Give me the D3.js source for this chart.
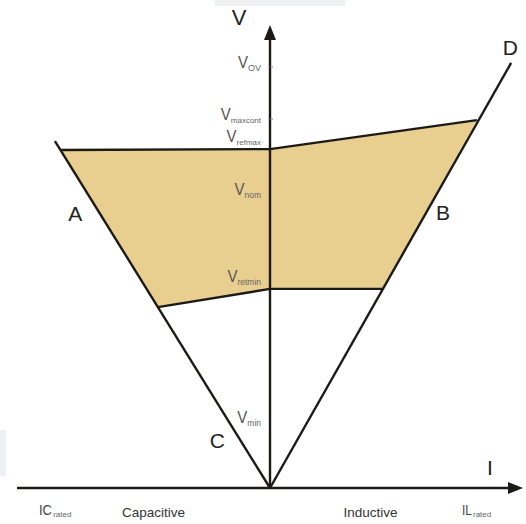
<!DOCTYPE html>
<html><head><meta charset="utf-8">
<script src="https://cdn.jsdelivr.net/npm/d3@7"></script>
<style>html,body{margin:0;padding:0;background:#fff;}svg{display:block;font-family:"Liberation Sans",Arial,sans-serif;}</style>
</head><body>
<script>
// Operating region (per-unit current I, per-unit voltage V)
const regionI = [-0.826, 0, 0.818, 0.447, 0, -0.443];
const regionV = [1.095, 1.098, 1.192, 0.645, 0.645, 0.586];
// Characteristic lines from origin
const lineNames = ["A", "D"];
const lineEndI = [-0.85, 0.953];
const lineEndV = [1.124, 1.377];
// Voltage levels on the V axis
const levelNames = ["OV", "maxcont", "refmax", "nom", "retmin", "min"];
const levelLabelV = [1.361, 1.192, 1.121, 0.949, 0.667, 0.211];
const levelSubSize = [9, 8, 8, 8.5, 8.5, 8.5];
const tickLevels = [1.364, 1.195];
// Letter labels (I, V positions)
const letterNames = ["A", "B", "C", "D"];
const letterI = [-0.77, 0.684, -0.208, 0.95];
const letterV = [0.865, 0.868, 0.13, 1.403];
// Current axis labels
const iLabels = ["Capacitive", "Inductive"];
const iLabelI = [-0.46, 0.397];

const W = 526, H = 524;
const x = d3.scaleLinear().domain([-1, 1]).range([17, 523]);
const y = d3.scaleLinear().domain([0, 1.5]).range([488, 25]);

const svg = d3.select("body").append("svg").attr("width", W).attr("height", H);

// faint scan artifacts
svg.append("rect").attr("x", 215).attr("y", 0).attr("width", 130).attr("height", 6).attr("fill", "#eef0f2");
svg.append("rect").attr("x", 0).attr("y", 430).attr("width", 6).attr("height", 46).attr("fill", "#eef0f2");

const pts = regionI.map((d, i) => [x(d), y(regionV[i])]);
svg.append("path").attr("d", d3.line()(pts) + "Z").attr("fill", "#e9cf8f");

const stroke = "#1c1a17", sw = 2.4;
const ln = d3.line();
// top and bottom edges
svg.append("path").attr("d", ln(pts.slice(0, 3))).attr("fill", "none").attr("stroke", stroke).attr("stroke-width", sw);
svg.append("path").attr("d", ln([pts[5], pts[4], pts[3]])).attr("fill", "none").attr("stroke", stroke).attr("stroke-width", sw);
// characteristic lines
lineEndI.forEach((d, i) => {
  svg.append("line").attr("x1", x(0)).attr("y1", y(0)).attr("x2", x(d)).attr("y2", y(lineEndV[i]))
    .attr("stroke", stroke).attr("stroke-width", sw);
});
// axes
svg.append("line").attr("x1", x(0)).attr("y1", y(0)).attr("x2", x(0)).attr("y2", y(1.47))
  .attr("stroke", stroke).attr("stroke-width", sw);
svg.append("path").attr("d", `M${x(0)},${y(1.5)} L${x(0) - 6},${y(1.5) + 15} L${x(0) + 6},${y(1.5) + 15} Z`).attr("fill", stroke);
svg.append("line").attr("x1", x(-1)).attr("y1", y(0)).attr("x2", x(0.98)).attr("y2", y(0))
  .attr("stroke", stroke).attr("stroke-width", sw);
svg.append("path").attr("d", `M${x(1)},${y(0)} L${x(1) - 15},${y(0) - 6} L${x(1) - 15},${y(0) + 6} Z`).attr("fill", stroke);

// small ticks
tickLevels.forEach(v => {
  svg.append("line").attr("x1", x(0)).attr("x2", x(0) + 3).attr("y1", y(v)).attr("y2", y(v))
    .attr("stroke", "#888").attr("stroke-width", 1);
});

// level labels
levelNames.forEach((n, i) => {
  const yy = y(levelLabelV[i]);
  const sub = svg.append("text").attr("x", 261).attr("y", yy + 3).attr("text-anchor", "end")
    .attr("font-size", levelSubSize[i]).attr("fill", "#666").text(n);
  const w = sub.node().getComputedTextLength();
  svg.append("text").attr("x", 261 - w).attr("y", yy).attr("text-anchor", "end")
    .attr("font-size", 17).attr("textLength", 10).attr("lengthAdjust", "spacingAndGlyphs")
    .attr("fill", "#555").text("V");
});

// letters
letterNames.forEach((n, i) => {
  svg.append("text").attr("x", x(letterI[i])).attr("y", y(letterV[i])).attr("text-anchor", "middle")
    .attr("font-size", 21).attr("fill", "#222").text(n);
});
// axis titles
svg.append("text").attr("x", 239).attr("y", 25).attr("text-anchor", "middle").attr("font-size", 22).attr("fill", "#222").text("V");
svg.append("text").attr("x", 490).attr("y", 475).attr("text-anchor", "middle").attr("font-size", 21).attr("fill", "#222").text("I");

// current labels
iLabels.forEach((t, i) => {
  svg.append("text").attr("x", x(iLabelI[i])).attr("y", 517).attr("text-anchor", "middle")
    .attr("font-size", 13.5).attr("fill", "#333").text(t);
});
[["IC", 39, 13], ["IL", 462, 10]].forEach(([t, xx, tl]) => {
  const m = svg.append("text").attr("x", xx).attr("y", 515).attr("font-size", 15)
    .attr("textLength", tl).attr("lengthAdjust", "spacingAndGlyphs").attr("fill", "#444").text(t);
  const bw = Math.max(tl, m.node().getBBox().width);
  svg.append("text").attr("x", xx + bw + 1).attr("y", 517).attr("font-size", 8).attr("fill", "#666").text("rated");
});
</script>
</body></html>
